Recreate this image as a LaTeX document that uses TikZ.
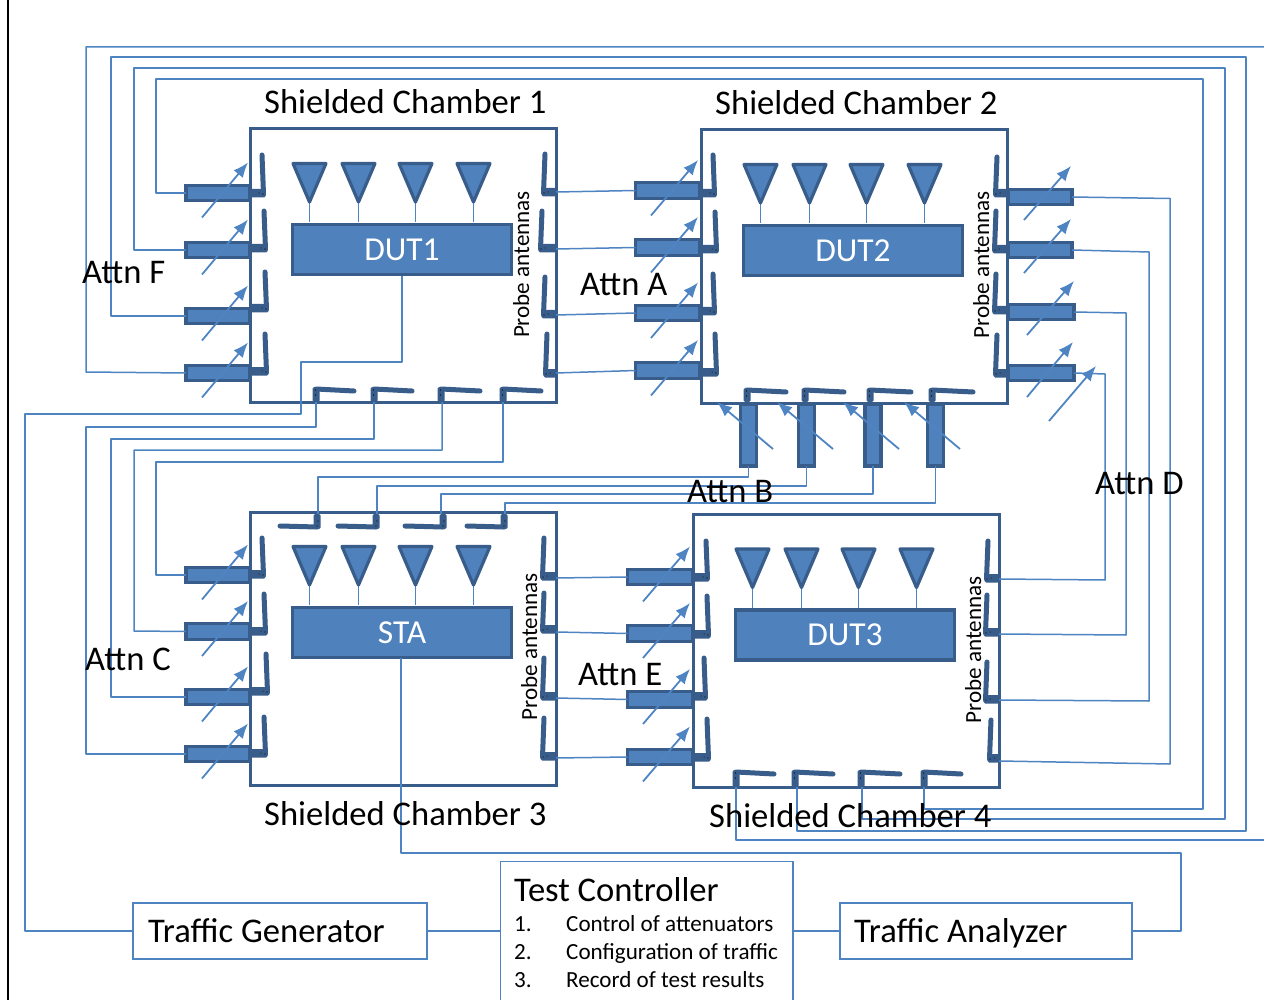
\documentclass[tikz,border=0pt]{standalone}
\usepackage{fontspec}
\setmainfont{Carlito}
\usetikzlibrary{arrows.meta}
\definecolor{bluefill}{HTML}{4F81BD}
\definecolor{blueedge}{HTML}{385D8A}
\definecolor{wirecol}{HTML}{4F84C2}
\tikzset{
  frame/.style={draw=blueedge,line width=3pt,fill=white,inner sep=0pt,outer sep=0pt},
  wire/.style={draw=wirecol,line width=1.5pt,line join=round},
  attn/.style={draw=blueedge,line width=3.4pt,fill=bluefill,inner sep=0pt,outer sep=0pt},
  dutbox/.style={draw=blueedge,line width=3.2pt,fill=bluefill,text=white,inner sep=0pt,font=\fontsize{33.5}{33.5}\selectfont},
  mast/.style={draw=blueedge,line width=5pt,line cap=round,line join=round},
  tune/.style={draw=wirecol,line width=1.8pt,-{Latex[length=15pt,width=12pt]}},
  tri/.style={draw=blueedge,fill=bluefill,line width=3.2pt,line join=round},
  stem/.style={draw=wirecol,line width=1.5pt},
  plainbox/.style={draw=wirecol,line width=1.6pt,fill=white,inner sep=0pt,outer sep=0pt},
  lab/.style={text=black,inner sep=0pt,anchor=base west,font=\fontsize{34.6}{34.6}\selectfont},
  probe/.style={text=black,inner sep=0pt,rotate=90,anchor=base,font=\fontsize{23.1}{23.1}\selectfont},
  small/.style={text=black,inner sep=0pt,anchor=base west,font=\fontsize{23.1}{23.1}\selectfont}
}
% antenna on a side wall: wall x, mast x, top y, bottom y
\newcommand{\antL}[4]{%
  \pgfmathsetmacro\sg{(#2>#1)?1:-1}
  \draw[mast] (#2,#3) -- (#2+1.5*\sg,#4-3);
  \fill[blueedge,rounded corners=1.5pt] (#1,#4-8) rectangle (#2+3.5*\sg,#4+0.5);
  \fill[black] (#2+1*\sg,#4-3) circle (0.7pt) (#2-3*\sg,#4-4) circle (0.5pt);}
% antenna on a horizontal wall: foot x, end x, bar y, wall y
\newcommand{\antH}[4]{%
  \pgfmathsetmacro\sg{(#2>#1)?1:-1}
  \draw[mast] (#1,#3-1) -- (#2,#3+1);
  \fill[blueedge,rounded corners=1.5pt] (#1-3.5*\sg,#3-3) rectangle (#1+3.5*\sg,#4);
  \fill[black] (#1-0.5*\sg,#3) circle (0.6pt) (#1-0.5*\sg,#3+5) circle (0.6pt);}
% core: frame, four beams, DUT
\newcommand{\chamber}[4]{% prefix, x, y, text
  \node[frame,minimum width=306pt,minimum height=273pt,anchor=north west] (#1frame) at (#2,#3) {};
  \begin{scope}[shift={(#2-250,#3-129)}]
    \foreach \c/\n in {309.5/a,358.5/b,415.5/c,473.5/d}{
      \coordinate (#1tip\n) at (\c,202);
      \coordinate (#1stem\n) at (\c,222);
      \draw[stem] (#1tip\n) -- (#1stem\n);
      \draw[tri] (\c-16.5,163.5) -- (\c+16.5,163.5) -- (#1tip\n) -- cycle;
    }
    \node[dutbox,minimum width=219pt,minimum height=50pt] (#1dut) at (402,249.5) {#4};
  \end{scope}}
\begin{document}
\begin{tikzpicture}[x=1pt,y=-1pt]
\useasboundingbox (0,0) rectangle (1264,1000);
\draw[black,line width=2pt] (8,0) -- (8,1000);

\chamber{ca}{250}{129}{DUT1}
\chamber{cb}{701}{130}{DUT2}
\chamber{cc}{250}{512}{STA}
\chamber{cd}{693}{514.5}{DUT3}

% Antennas: left walls
\foreach \m/\t/\b in {262/155/197,264/211/252,265/272/312,265/334/375}{\antL{250}{\m}{\t}{\b}}
\foreach \m/\t/\b in {713/155/197,715/212/253,713/274/315,715/334/376}{\antL{701}{\m}{\t}{\b}}
\foreach \m/\t/\b in {262/538/578,264/594/635,266/654/695,264/717/757}{\antL{250}{\m}{\t}{\b}}
\foreach \m/\t/\b in {706/541/581,707/596/638,704/658/700,707/719/761}{\antL{693}{\m}{\t}{\b}}
% Antennas: right walls
\foreach \m/\t/\b in {545/154/196,542/211/252,545/277/318,547/334/377}{\antL{556}{\m}{\t}{\b}}
\foreach \m/\t/\b in {997/157/197,996/211/253,996/274/314,997/335/377}{\antL{1007}{\m}{\t}{\b}}
\foreach \m/\t/\b in {544/538/580,544/593/633,544/658/700,544/718/760}{\antL{556}{\m}{\t}{\b}}
\foreach \m/\t/\b in {988/541/582,987/595/636,987/662/703,991/720/762}{\antL{999}{\m}{\t}{\b}}
% Antennas: bottom walls
\foreach \f/\e in {316/354,374/412,441/480,503/541}{\antH{\f}{\e}{390}{402}}
\foreach \f/\e in {747/786,805/844,870/911,932/973}{\antH{\f}{\e}{391}{402}}
\foreach \f/\e in {736/774,795/833,861/900,924/961}{\antH{\f}{\e}{773}{787}}
% Antennas: top wall of chamber 3
\foreach \f/\e in {317/280,376/338,443/405,504/467}{
  \draw[mast] (\f,527) -- (\e,526);
  \fill[blueedge,rounded corners=1.5pt] (\f-3.5,514) rectangle (\f+3.5,529);
  \fill[black] (\f+1,521) circle (0.6pt) (\f,526) circle (0.6pt);}

% Attenuators and their tuning arrows
\foreach \n/\y in {1/193,2/250,3/316,4/373}{
  \node[attn,minimum width=64pt,minimum height=15pt] (aL\n) at (218,\y) {};
  \draw[tune] (202,\y+24.5) -- (248,\y-30.5);}
\foreach \n/\y in {1/190.5,2/247.5,3/313,4/370.5}{
  \node[attn,minimum width=64pt,minimum height=15.5pt] (aA\n) at (667.5,\y) {};
  \draw[tune] (651,\y+25) -- (698,\y-30.5);}
\foreach \n/\y in {1/575,2/631.5,3/697,4/754}{
  \node[attn,minimum width=64pt,minimum height=15.5pt] (aC\n) at (218,\y) {};
  \draw[tune] (202,\y+24.5) -- (248,\y-30.5);}
\foreach \n/\y in {1/577,2/633.5,3/699.5,4/757}{
  \node[attn,minimum width=65pt,minimum height=15.5pt] (aE\n) at (660,\y) {};
  \draw[tune] (643,\y+24.5) -- (690,\y-30.5);}
\node[attn,minimum width=64pt,minimum height=15pt] (aD1) at (1040,197) {};
\node[attn,minimum width=64pt,minimum height=15pt] (aD2) at (1040,250) {};
\node[attn,minimum width=66pt,minimum height=15pt] (aD3) at (1041,312) {};
\node[attn,minimum width=66pt,minimum height=15pt] (aD4) at (1041,373) {};
\draw[tune] (1024,220) -- (1071,166);
\draw[tune] (1024,273) -- (1071,219);
\draw[tune] (1027,335) -- (1074,281);
\draw[tune] (1027,397) -- (1073,342);
\draw[tune] (1049,421) -- (1096,366);
\foreach \n/\x/\tx in {1/748.5/717,2/806.5/777,3/873/843,4/935.5/904}{
  \node[attn,minimum width=16pt,minimum height=62pt] (aB\n) at (\x,435) {};
  \draw[tune] (\tx+56,449) -- (\tx,402);}

% Named connector ends
\foreach \n/\x in {1/316,2/374,3/442,4/503}{\coordinate (ba\n) at (\x,402);}
\foreach \n/\x in {1/318,2/377,3/441,4/505}{\coordinate (tc\n) at (\x,514);}
\foreach \n/\x in {1/736,2/797,3/862,4/924}{\coordinate (bd\n) at (\x,787);}
\foreach \n/\y in {1/192,2/249,3/315,4/373}{\coordinate (ra\n) at (556,\y);}
\foreach \n/\y in {1/578,2/632,3/698,4/758}{\coordinate (rc\n) at (556,\y);}
\foreach \n/\y in {1/579,2/634,3/700,4/761}{\coordinate (rd\n) at (999,\y);}
\coordinate (edgeTop) at (1264,47);
\coordinate (edgeBot) at (1264,840);

% Plain boxes
\node[plainbox,minimum width=294pt,minimum height=56pt] (gen) at (280,931) {};
\node[plainbox,minimum width=292pt,minimum height=56pt] (ana) at (986,931) {};
\node[plainbox,minimum width=292.5pt,minimum height=160pt,anchor=north west] (ctl) at (500.5,861.5) {};

% Wires
\foreach \a/\b in {ra1/aA1,ra2/aA2,ra3/aA3,ra4/aA4,rc1/aE1,rc2/aE2,rc3/aE3,rc4/aE4}{
  \draw[wire] (\a) -- (\b.west);}
\draw[wire] (aL1.west) -- (156,193) -- (156,79) -- (1203,79) -- (1203,809) -- (bd4 |- 0,809) -- (bd4);
\draw[wire] (aL2.west) -- (134,250) -- (134,68) -- (1225,68) -- (1225,819) -- (bd3 |- 0,819) -- (bd3);
\draw[wire] (aL3.west) -- (111,316) -- (111,57) -- (1246,57) -- (1246,831) -- (bd2 |- 0,831) -- (bd2);
\draw[wire] (aL4.west) -- (86,372) -- (86,47) -- (edgeTop);
\draw[wire] (bd1) -- (736,840) -- (edgeBot);
\draw[wire] (aC1.west) -- (156,575) -- (156,462) -- (503,462) -- (ba4);
\draw[wire] (aC2.west) -- (134,631) -- (134,450) -- (442,450) -- (ba3);
\draw[wire] (aC3.west) -- (111,697) -- (111,439) -- (374,439) -- (ba2);
\draw[wire] (aC4.west) -- (86,754) -- (86,427) -- (316,427) -- (ba1);
\draw[wire] (aB1.south) -- (aB1.south |- 0,477) -- (tc1 |- 0,477) -- (tc1);
\draw[wire] (aB2.south) -- (aB2.south |- 0,486) -- (tc2 |- 0,486) -- (tc2);
\draw[wire] (aB3.south) -- (aB3.south |- 0,494) -- (tc3 |- 0,494) -- (tc3);
\draw[wire] (aB4.south) -- (aB4.south |- 0,503) -- (tc4 |- 0,503) -- (tc4);
\draw[wire] (aD1.east) -- (1170,198.5) -- (1170,764) -- (rd4);
\draw[wire] (aD2.east) -- (1149,252) -- (1149,701) -- (rd3);
\draw[wire] (aD3.east) -- (1126,313) -- (1126,635) -- (rd2);
\draw[wire] (aD4.east) -- (1105,374) -- (1105,580) -- (rd1);
\draw[wire] (cadut.south) -- (402,362) -- (301,362) -- (301,414) -- (25,414) -- (25,931) -- (gen.west);
\draw[wire] (gen.east) -- (ctl.west |- gen.east);
\draw[wire] (ctl.east |- ana.west) -- (ana.west);
\draw[wire] (ana.east) -- (1181,931) -- (1181,853) -- (401,853) -- (401,658);

% Labels
\node[lab] (t1) at (264,114) {Shielded Chamber 1};
\node[lab] (t2) at (715,114.5) {Shielded Chamber 2};
\node[lab] (t3) at (264,825) {Shielded Chamber 3};
\node[lab] (t4) at (709,827) {Shielded Chamber 4};
\node[lab] (f) at (82,284) {Attn F};
\node[lab] (aa) at (580,296) {Attn A};
\node[lab] (bb) at (687,502) {Attn B};
\node[lab] (cc) at (85,670) {Attn C};
\node[lab] (dd) at (1095,494) {Attn D};
\node[lab] (ee) at (578,685) {Attn E};
\node[probe] (p1) at (529,264.5) {Probe antennas};
\node[probe] (p2) at (989,265) {Probe antennas};
\node[probe] (p3) at (537,647) {Probe antennas};
\node[probe] (p4) at (981,650) {Probe antennas};
\node[lab] (tg) at (148,942) {Traffic Generator};
\node[lab] (ta) at (854,942) {Traffic Analyzer};
\node[lab] (tc) at (514,901) {Test Controller};
\node[small] (n1) at (514,931) {1.};
\node[small] (l1) at (566,931) {Control of attenuators};
\node[small] (n2) at (514,959) {2.};
\node[small] (l2) at (566,959) {Configuration of traffic};
\node[small] (n3) at (514,987) {3.};
\node[small] (l3) at (566,987) {Record of test results};
\end{tikzpicture}
\end{document}
